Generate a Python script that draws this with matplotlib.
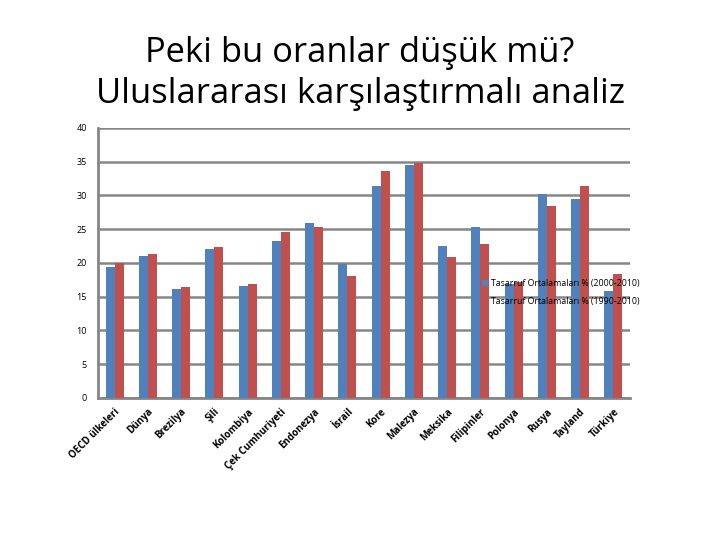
import matplotlib
matplotlib.use("Agg")
import matplotlib.pyplot as plt
import numpy as np

categories = ["OECD ülkeleri", "Dünya", "Brezilya", "Şili", "Kolombiya",
              "Çek Cumhuriyeti", "Endonezya", "İsrail", "Kore", "Malezya",
              "Meksika", "Filipinler", "Polonya", "Rusya", "Tayland", "Türkiye"]
savings_2000_2010 = [19.4, 21.0, 16.1, 22.1, 16.6, 23.3, 25.9, 19.9, 31.4, 34.5,
                     22.5, 25.3, 16.9, 30.2, 29.5, 15.9]
savings_1990_2010 = [20.0, 21.3, 16.4, 22.4, 16.9, 24.6, 25.3, 18.1, 33.6, 34.8,
                     20.9, 22.8, 17.2, 28.4, 31.4, 18.4]
series_labels = ["Tasarruf Ortalamaları % (2000-2010)",
                 "Tasarruf Ortalamaları % (1990-2010)"]
yticks = [0, 5, 10, 15, 20, 25, 30, 35, 40]
title = "Peki bu oranlar düşük mü?\nUluslararası karşılaştırmalı analiz"

plt.rcParams['font.family'] = ['Open Sans', 'DejaVu Sans']

fig = plt.figure(figsize=(7.2, 5.4), dpi=100)
ax = fig.add_axes([0.136, 0.263, 0.739, 0.5])

x = np.arange(len(categories))
w = 0.27
gray = "#868686"
ax.bar(x - w / 2, savings_2000_2010, width=w, color="#4F81BD", label=series_labels[0], zorder=3)
ax.bar(x + w / 2, savings_1990_2010, width=w, color="#C0504D", label=series_labels[1], zorder=3)

ax.set_xlim(-0.5, len(categories) - 0.5)
ax.set_ylim(0, 40)
ax.set_yticks(yticks)
ax.set_yticklabels([str(t) for t in yticks], fontsize=6.5)
ax.yaxis.grid(True, color=gray, linewidth=1.8, zorder=0)
ax.set_axisbelow(True)
for s in ["top", "right"]:
    ax.spines[s].set_visible(False)
for s in ["left", "bottom"]:
    ax.spines[s].set_color(gray)
    ax.spines[s].set_linewidth(2)
ax.tick_params(axis="both", length=0, pad=8)
ax.set_xticks(x)
ax.set_xticklabels(categories, rotation=45, ha="right", va="top",
                   rotation_mode="anchor", fontsize=7, fontweight="bold")
ax.tick_params(axis="x", pad=6)

leg = ax.legend(loc="upper left", bbox_to_anchor=(0.715, 0.452), frameon=False,
                fontsize=6.3, handlelength=0.7, handleheight=0.7,
                handletextpad=0.3, labelspacing=0.95, borderaxespad=0)
leg.set_zorder(5)

fig.text(0.5, 0.864, title, ha="center", va="center", fontsize=24.8,
         linespacing=1.3, color="black")

fig.savefig("out.png", dpi=100)
